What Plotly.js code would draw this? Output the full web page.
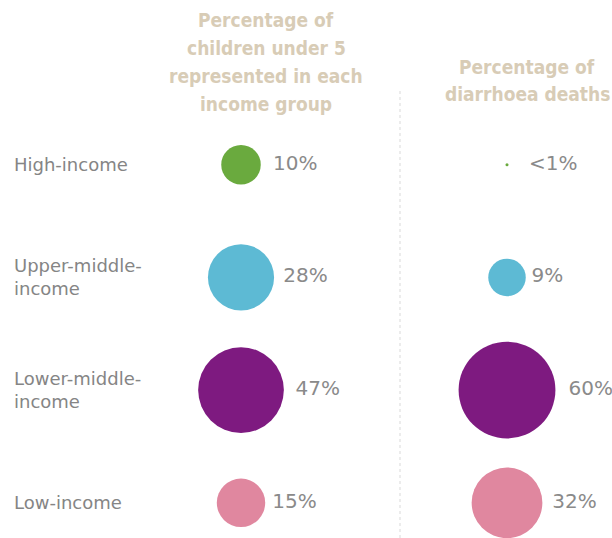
<!DOCTYPE html>
<html>
<head>
<meta charset="utf-8">
<script src="https://cdn.plot.ly/plotly-3.0.1.min.js"></script>
<style>html,body{margin:0;padding:0;background:#fff;}#chart{width:612px;height:538px;}</style>
</head>
<body>
<div id="chart"></div>
<script>
// ---- data ----
var categories = ["High-income", "Upper-middle-income", "Lower-middle-income", "Low-income"];
var rowLabels = ["High-income", "Upper-middle-<br>income", "Lower-middle-<br>income", "Low-income"];
var columns = ["children", "deaths"];
var childrenPct = [10, 28, 47, 15];
var childrenLabels = ["\u00a010%", "28%", "47%", "15%"];
var deathsPct = [0.06, 9, 60, 32];           // "<1%" shown as a tiny dot
var deathsLabels = ["\u00a0\u00a0\u00a0<1%", "9%", "60%", "32%"];
var header1Lines = ["Percentage of", "children under 5", "represented in each", "income group"];
var header2Lines = ["Percentage of", "diarrhoea deaths"];
var groupColors = ["#6aaa3e", "#5dbad4", "#7e1a80", "#e0879f"];

// ---- styles ----
var W = 612, H = 538;
var sizeRef = 0.0128;
var pctFont = {family: "DejaVu Sans, sans-serif", size: 20, color: "#8a8a8a"};
var labelFont = {family: "DejaVu Sans, sans-serif", size: 18, color: "#858585"};
var headFont = {family: "DejaVu Sans Condensed, DejaVu Sans, sans-serif", size: 19, color: "#d8ccb6", weight: "bold"};

function colTrace(col, vals, labels) {
  return {
    type: "scatter",
    mode: "markers+text",
    x: categories.map(function () { return col; }),
    y: categories,
    text: labels,
    textposition: "middle right",
    textfont: pctFont,
    marker: {size: vals, sizemode: "area", sizeref: sizeRef, color: groupColors, opacity: 1, line: {width: 0}},
    hoverinfo: "skip",
    cliponaxis: false,
    showlegend: false
  };
}

var data = [
  colTrace(columns[0], childrenPct, childrenLabels),
  colTrace(columns[1], deathsPct, deathsLabels)
];

var annotations = [];
rowLabels.forEach(function (t, i) {
  annotations.push({xref: "paper", x: 12 / W, xanchor: "left", yref: "y", y: categories[i],
    yanchor: "middle", text: t, align: "left", showarrow: false, font: labelFont});
});
header1Lines.forEach(function (t, i) {
  annotations.push({xref: "paper", x: 266 / W, xanchor: "center", yref: "paper", y: 1 - (20 + 28 * i) / H,
    yanchor: "middle", text: t, showarrow: false, font: headFont});
});
header2Lines.forEach(function (t, i) {
  annotations.push({xref: "paper", x: 527 / W, xanchor: "center", yref: "paper", y: 1 - (67 + 27 * i) / H,
    yanchor: "middle", text: t, showarrow: false, font: headFont});
});

var layout = {
  width: W, height: H,
  margin: {l: 0, r: 0, t: 0, b: 0},
  paper_bgcolor: "#ffffff", plot_bgcolor: "#ffffff",
  showlegend: false,
  xaxis: {type: "category", categoryarray: columns, range: [-0.906, 1.3947], visible: false, fixedrange: true},
  yaxis: {type: "category", categoryarray: categories, range: [3.312, -1.461], visible: false, fixedrange: true},
  shapes: [{type: "line", xref: "paper", yref: "paper", x0: 400 / W, x1: 400 / W, y0: 0, y1: 1 - 88 / H,
    line: {color: "#e0e0e0", width: 1.2, dash: "dot"}}],
  annotations: annotations
};

Plotly.newPlot("chart", data, layout, {displayModeBar: false, staticPlot: true});
</script>
</body>
</html>
